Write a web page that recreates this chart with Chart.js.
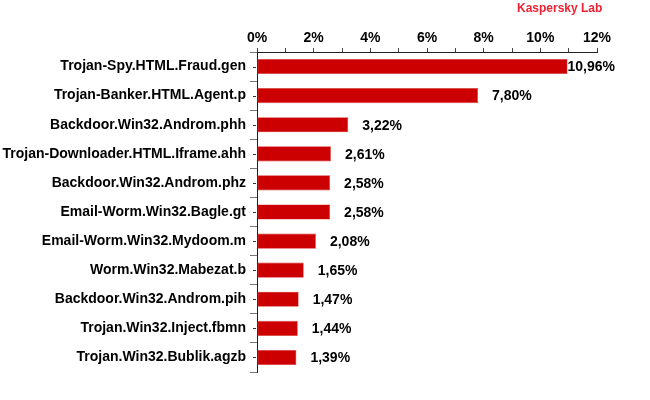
<!DOCTYPE html>
<html><head><meta charset="utf-8">
<script src="https://cdn.jsdelivr.net/npm/chart.js@4"></script>
<style>html,body{margin:0;padding:0;background:#fff}#wrap{position:relative;width:650px;height:400px}</style>
</head><body><div id="wrap"><canvas id="c" width="650" height="400"></canvas></div>
<script>
const categories = ["Trojan-Spy.HTML.Fraud.gen","Trojan-Banker.HTML.Agent.p","Backdoor.Win32.Androm.phh","Trojan-Downloader.HTML.Iframe.ahh","Backdoor.Win32.Androm.phz","Email-Worm.Win32.Bagle.gt","Email-Worm.Win32.Mydoom.m","Worm.Win32.Mabezat.b","Backdoor.Win32.Androm.pih","Trojan.Win32.Inject.fbmn","Trojan.Win32.Bublik.agzb"];
const values = [10.96, 7.80, 3.22, 2.61, 2.58, 2.58, 2.08, 1.65, 1.47, 1.44, 1.39];
const valueLabels = ["10,96%","7,80%","3,22%","2,61%","2,58%","2,58%","2,08%","1,65%","1,47%","1,44%","1,39%"];
const xTicks = [0,2,4,6,8,10,12];
const title = "Kaspersky Lab";

const FONT = "'Liberation Sans', Arial, sans-serif";

const extras = {
  id: 'extras',
  afterDatasetsDraw(chart) {
    const ctx = chart.ctx;
    const meta = chart.getDatasetMeta(0);
    const ya = chart.scales.y;
    ctx.save();
    ctx.font = "bold 14px " + FONT;
    ctx.fillStyle = '#000';
    ctx.textBaseline = 'middle';
    ctx.textAlign = 'left';
    meta.data.forEach((bar, i) => {
      const t = valueLabels[i];
      const w = ctx.measureText(t).width;
      let x = bar.x + 14;
      if (x + w > 615) x = 615 - w;
      ctx.fillText(t, x, bar.y + 1);
    });
    // short ticks at category centers
    ctx.strokeStyle = '#333';
    ctx.lineWidth = 1;
    const ax = ya.right;
    meta.data.forEach(bar => {
      ctx.beginPath();
      ctx.moveTo(ax - 4, Math.round(bar.y) + 0.5);
      ctx.lineTo(ax - 1, Math.round(bar.y) + 0.5);
      ctx.stroke();
    });
    // title
    ctx.font = "bold 12px " + FONT;
    ctx.fillStyle = '#ee2233';
    ctx.textAlign = 'left';
    ctx.fillText(title, 517, 9);
    ctx.restore();
  }
};

new Chart(document.getElementById('c'), {
  type: 'bar',
  data: {
    labels: categories,
    datasets: [{
      data: values,
      backgroundColor: '#cc0000',
      borderColor: '#d83a3a',
      borderWidth: 0.6,
      borderSkipped: false,
      barPercentage: 0.52,
      categoryPercentage: 1.0
    }]
  },
  options: {
    indexAxis: 'y',
    responsive: false,
    animation: false,
    devicePixelRatio: 1,
    layout: { padding: { left: 0, right: 53, top: 0, bottom: 28 } },
    plugins: { legend: { display: false }, tooltip: { enabled: false } },
    scales: {
      x: {
        position: 'top',
        min: 0, max: 12,
        afterBuildTicks(scale) {
          const arr = [];
          for (let v = 0; v <= 12; v++) arr.push({ value: v });
          scale.ticks = arr;
        },
        afterFit(scale) { scale.height = 52; },
        ticks: {
          font: { family: FONT, weight: 'bold', size: 14 },
          color: '#000',
          padding: 1,
          maxRotation: 0,
          autoSkip: false,
          callback: (v) => xTicks.includes(v) ? v + '%' : ''
        },
        grid: {
          drawOnChartArea: false,
          tickLength: 4,
          tickColor: '#444',
          color: '#444'
        },
        border: { display: true, color: '#222', width: 1 }
      },
      y: {
        afterFit(scale) { scale.width = 257; },
        ticks: {
          font: { family: FONT, weight: 'bold', size: 14 },
          color: '#000',
          padding: 4,
          autoSkip: false
        },
        grid: {
          offset: true,
          drawOnChartArea: false,
          tickLength: 7,
          tickColor: '#777',
          color: '#777'
        },
        border: { display: true, color: '#222', width: 1 }
      }
    }
  },
  plugins: [extras]
});
</script></body></html>
